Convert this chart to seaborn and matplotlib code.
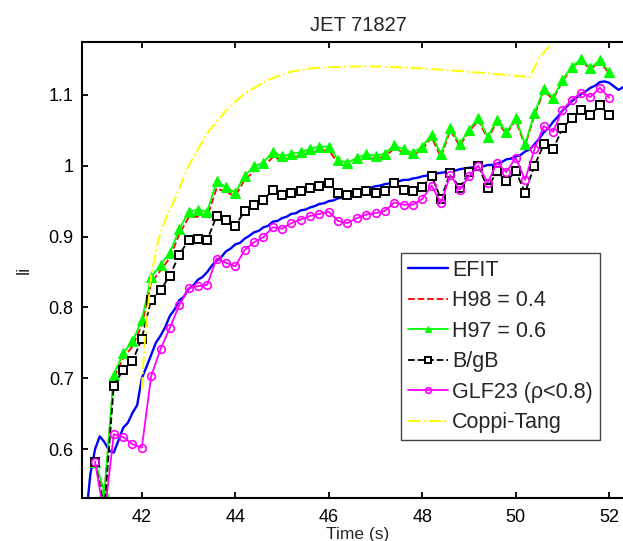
import numpy as np
import pandas as pd
import matplotlib
matplotlib.use("Agg")
import matplotlib.pyplot as plt
import seaborn as sns

# %% data
model_time = [41.0, 41.2, 41.4, 41.6, 41.8, 42.0, 42.2, 42.4, 42.6, 42.8,
              43.0, 43.2, 43.4, 43.6, 43.8, 44.0, 44.2, 44.4, 44.6, 44.8,
              45.0, 45.2, 45.4, 45.6, 45.8, 46.0, 46.2, 46.4, 46.6, 46.8,
              47.0, 47.2, 47.4, 47.6, 47.8, 48.0, 48.2, 48.4, 48.6, 48.8,
              49.0, 49.2, 49.4, 49.6, 49.8, 50.0, 50.2, 50.4, 50.6, 50.8,
              51.0, 51.2, 51.4, 51.6, 51.8, 52.0]

h98_li = [0.582, 0.535, 0.700, 0.728, 0.745, 0.775, 0.835, 0.852, 0.870, 0.903,
          0.927, 0.928, 0.928, 0.968, 0.963, 0.957, 0.980, 0.992, 0.998, 1.012,
          1.008, 1.012, 1.014, 1.018, 1.021, 1.022, 1.003, 0.999, 1.006, 1.011,
          1.010, 1.013, 1.024, 1.019, 1.014, 1.023, 1.040, 1.012, 1.050, 1.028,
          1.048, 1.064, 1.038, 1.062, 1.045, 1.064, 1.028, 1.071, 1.105, 1.094,
          1.119, 1.138, 1.148, 1.136, 1.147, 1.130]

h97_li = [0.582, 0.540, 0.705, 0.735, 0.752, 0.782, 0.843, 0.860, 0.877, 0.910,
          0.935, 0.938, 0.935, 0.978, 0.970, 0.962, 0.986, 0.999, 1.004, 1.020,
          1.013, 1.017, 1.019, 1.024, 1.027, 1.027, 1.008, 1.004, 1.011, 1.016,
          1.014, 1.017, 1.029, 1.023, 1.018, 1.027, 1.044, 1.016, 1.053, 1.031,
          1.051, 1.067, 1.041, 1.065, 1.047, 1.067, 1.030, 1.074, 1.108, 1.096,
          1.121, 1.140, 1.150, 1.138, 1.149, 1.132]

bgb_li = [0.582, 0.515, 0.689, 0.712, 0.724, 0.756, 0.811, 0.824, 0.845, 0.874,
          0.895, 0.897, 0.895, 0.929, 0.923, 0.915, 0.936, 0.945, 0.951, 0.966,
          0.958, 0.962, 0.964, 0.968, 0.971, 0.975, 0.961, 0.959, 0.961, 0.964,
          0.962, 0.964, 0.975, 0.966, 0.964, 0.970, 0.986, 0.953, 0.990, 0.968,
          0.991, 0.999, 0.969, 0.992, 0.978, 0.992, 0.962, 1.000, 1.030, 1.023,
          1.053, 1.067, 1.079, 1.072, 1.085, 1.072]

glf23_li = [0.582, 0.505, 0.621, 0.617, 0.607, 0.602, 0.703, 0.741, 0.771, 0.803,
            0.827, 0.830, 0.832, 0.869, 0.863, 0.858, 0.881, 0.892, 0.899, 0.913,
            0.911, 0.919, 0.924, 0.929, 0.932, 0.935, 0.922, 0.919, 0.926, 0.931,
            0.933, 0.936, 0.948, 0.945, 0.945, 0.953, 0.972, 0.947, 0.987, 0.966,
            0.985, 1.000, 0.976, 1.004, 0.991, 1.011, 0.980, 1.023, 1.056, 1.048,
            1.079, 1.093, 1.103, 1.097, 1.110, 1.096]

coppi_time = [42.0, 42.05, 42.1, 42.2, 42.35, 42.5, 42.7, 43.0, 43.4, 43.8,
              44.2, 44.7, 45.2, 45.7, 46.4, 47.1, 47.8, 48.3, 49.3, 50.3,
              50.5, 51.0]
coppi_li = [0.684, 0.740, 0.780, 0.845, 0.895, 0.924, 0.952, 1.000, 1.046, 1.078,
            1.102, 1.121, 1.133, 1.138, 1.140, 1.140, 1.138, 1.136, 1.131, 1.125,
            1.152, 1.190]

efit_time = [40.8, 40.9, 41.0, 41.1, 41.2, 41.3, 41.4, 41.5, 41.6, 41.7,
             41.8, 41.9, 42.0, 42.1, 42.2, 42.3, 42.4, 42.5, 42.6, 42.7,
             42.8, 42.9, 43.0, 43.1, 43.2, 43.3, 43.4, 43.5, 43.6, 43.7,
             43.8, 43.9, 44.0, 44.1, 44.2, 44.3, 44.4, 44.5, 44.6, 44.7,
             44.8, 44.9, 45.0, 45.1, 45.2, 45.3, 45.4, 45.5, 45.6, 45.7,
             45.8, 45.9, 46.0, 46.1, 46.2, 46.3, 46.4, 46.5, 46.6, 46.7,
             46.8, 46.9, 47.0, 47.1, 47.2, 47.3, 47.4, 47.5, 47.6, 47.7,
             47.8, 47.9, 48.0, 48.1, 48.2, 48.3, 48.4, 48.5, 48.6, 48.7,
             48.8, 48.9, 49.0, 49.1, 49.2, 49.3, 49.4, 49.5, 49.6, 49.7,
             49.8, 49.9, 50.0, 50.1, 50.2, 50.3, 50.4, 50.5, 50.6, 50.7,
             50.8, 50.9, 51.0, 51.1, 51.2, 51.3, 51.4, 51.5, 51.6, 51.7,
             51.8, 51.9, 52.0, 52.1, 52.2, 52.3]
efit_li = [0.500, 0.565, 0.600, 0.618, 0.610, 0.598, 0.595, 0.612, 0.630, 0.637,
           0.651, 0.662, 0.700, 0.716, 0.733, 0.750, 0.760, 0.772, 0.788, 0.797,
           0.810, 0.815, 0.826, 0.831, 0.839, 0.843, 0.850, 0.859, 0.866, 0.871,
           0.879, 0.883, 0.889, 0.891, 0.897, 0.901, 0.906, 0.908, 0.913, 0.915,
           0.921, 0.922, 0.926, 0.928, 0.932, 0.933, 0.937, 0.938, 0.941, 0.943,
           0.946, 0.947, 0.950, 0.951, 0.954, 0.955, 0.958, 0.960, 0.963, 0.965,
           0.968, 0.969, 0.971, 0.972, 0.974, 0.975, 0.977, 0.978, 0.980, 0.980,
           0.982, 0.983, 0.985, 0.986, 0.988, 0.989, 0.990, 0.991, 0.993, 0.993,
           0.995, 0.996, 0.997, 0.998, 0.999, 0.999, 1.001, 1.001, 1.003, 1.005,
           1.009, 1.010, 1.013, 1.015, 1.020, 1.023, 1.030, 1.038, 1.047, 1.053,
           1.062, 1.069, 1.078, 1.084, 1.091, 1.096, 1.101, 1.105, 1.110, 1.113,
           1.118, 1.119, 1.117, 1.112, 1.107, 1.111]

x_ticks = [42, 44, 46, 48, 50, 52]
y_ticks = [0.6, 0.7, 0.8, 0.9, 1.0, 1.1]
y_tick_labels = ["0.6", "0.7", "0.8", "0.9", "1", "1.1"]

# %% plot
sns.set_style("ticks")
plt.rcParams["font.family"] = ["Liberation Sans", "DejaVu Sans"]

fig = plt.figure(figsize = (6.23, 5.41), dpi = 100)
ax = fig.add_axes([0.1316, 0.0795, 0.886, 0.8434])

models = pd.DataFrame({"time": model_time, "h98": h98_li, "h97": h97_li,
                       "bgb": bgb_li, "glf23": glf23_li})

sns.lineplot(x = efit_time, y = efit_li, ax = ax, color = "#0000FF", lw = 1.7,
             label = "EFIT")
sns.lineplot(data = models, x = "time", y = "h98", ax = ax, color = "#FF0000",
             lw = 1.3, linestyle = "--", label = "H98 = 0.4")
sns.lineplot(data = models, x = "time", y = "h97", ax = ax, color = "#00FF00",
             lw = 1.3, marker = "^", markersize = 6.5, markerfacecolor = "#00FF00",
             markeredgecolor = "#00FF00", label = "H97 = 0.6")
sns.lineplot(data = models, x = "time", y = "bgb", ax = ax, color = "black",
             lw = 1.3, linestyle = "--", marker = "s", markersize = 5.8,
             markerfacecolor = "white", markeredgecolor = "black",
             markeredgewidth = 1.4, label = "B/gB")
sns.lineplot(data = models, x = "time", y = "glf23", ax = ax, color = "#FF00FF",
             lw = 1.3, marker = "o", markersize = 5.5, markerfacecolor = "none",
             markeredgecolor = "#FF00FF", markeredgewidth = 1.2,
             label = "GLF23 (\u03c1<0.8)")
sns.lineplot(x = coppi_time, y = coppi_li, ax = ax, color = "#FFFF00", lw = 1.4,
             linestyle = "-.", label = "Coppi-Tang")

ax.set_xlim(40.72, 52.53)
ax.set_ylim(0.531, 1.175)
ax.set_xticks(x_ticks)
ax.set_yticks(y_ticks, labels = y_tick_labels)
ax.tick_params(direction = "in", length = 4.5, width = 1.3, labelsize = 13,
               top = True, right = False, colors = "black")
ax.tick_params(axis = "x", pad = 8)
ax.tick_params(axis = "y", pad = 6)
for side in ["left", "bottom", "top"]:
    ax.spines[side].set_linewidth(1.5)
    ax.spines[side].set_color("black")
ax.spines["right"].set_visible(False)

ax.set_title("JET 71827", fontsize = 14.5, pad = 8)
ax.set_ylabel("li", fontsize = 13)
ax.yaxis.set_label_coords(-0.089, 0.50)
ax.set_xlabel("Time (s)", fontsize = 12.5, va = "center")
ax.xaxis.set_label_coords(0.5, -0.079)

leg = ax.legend(loc = "upper left", bbox_to_anchor = (401 / 623, 1 - 253 / 541),
                bbox_transform = fig.transFigure, borderaxespad = 0,
                fontsize = 15.5, handlelength = 1.85, handletextpad = 0.2,
                labelspacing = 0.44, borderpad = 0.32, fancybox = False,
                framealpha = 1, edgecolor = "#444444", markerscale = 0.75)
leg.get_frame().set_linewidth(1.0)

fig.savefig("out.png", dpi = 100)
